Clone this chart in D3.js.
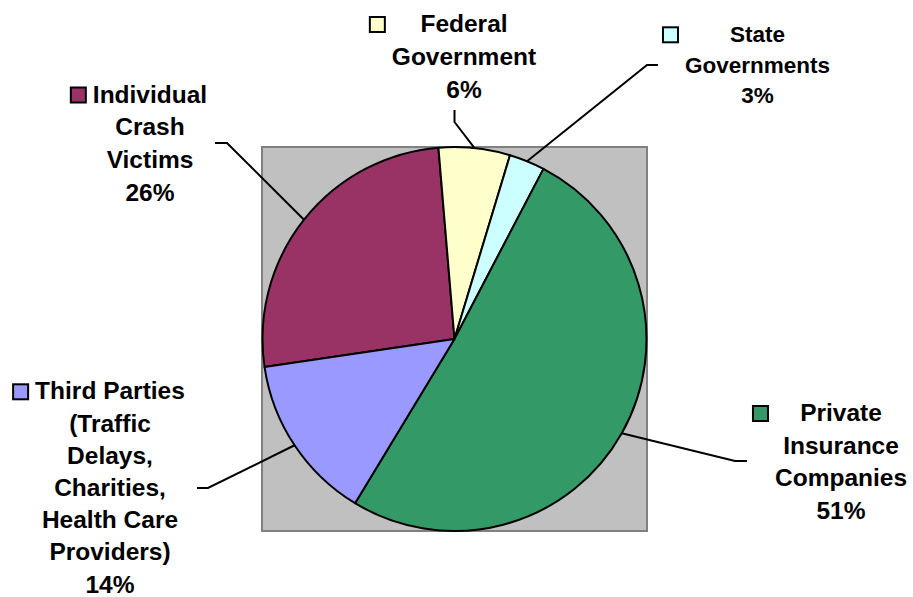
<!DOCTYPE html>
<html>
<head>
<meta charset="utf-8">
<script src="https://cdn.jsdelivr.net/npm/d3@7/dist/d3.min.js"></script>
<style>
  html, body { margin: 0; padding: 0; background: #ffffff; }
  svg { display: block; }
  text { font-family: "Liberation Sans", Arial, Helvetica, sans-serif; font-weight: bold; fill: #000; }
</style>
</head>
<body>
<svg id="chart" width="913" height="597"></svg>
<script>
// Who pays for motor vehicle crash costs — share of total
const categories = [
  "Individual Crash Victims",
  "Federal Government",
  "State Governments",
  "Private Insurance Companies",
  "Third Parties (Traffic Delays, Charities, Health Care Providers)"
];
const shares = [26, 6, 3, 51, 14];
const sliceColors = ["#993366", "#FFFFCC", "#CCFFFF", "#339966", "#9999FF"];
const labelLines = [
  ["Individual", "Crash", "Victims"],
  ["Federal", "Government"],
  ["State", "Governments"],
  ["Private", "Insurance", "Companies"],
  ["Third Parties", "(Traffic", "Delays,", "Charities,", "Health Care", "Providers)"]
];

const svg = d3.select("#chart");

// Plot area (grey square) and pie geometry
const box = { x: 262, y: 147, w: 385, h: 384 };
const cx = box.x + box.w / 2, cy = box.y + box.h / 2;
const radius = 192;

svg.append("rect")
  .attr("x", box.x).attr("y", box.y)
  .attr("width", box.w).attr("height", box.h)
  .attr("fill", "#C0C0C0")
  .attr("stroke", "#808080")
  .attr("stroke-width", 2);

// First slice begins so that the Federal slice starts just left of 12 o'clock
const firstStart = -98.4 * Math.PI / 180;
const pie = d3.pie().sort(null).value(d => d)
  .startAngle(firstStart).endAngle(firstStart + 2 * Math.PI);
const arcs = pie(shares);

const arc = d3.arc().innerRadius(0).outerRadius(radius);
const edgeArc = d3.arc().innerRadius(radius).outerRadius(radius);

const g = svg.append("g").attr("transform", `translate(${cx},${cy})`);
g.selectAll("path.slice")
  .data(arcs)
  .join("path")
  .attr("class", "slice")
  .attr("d", arc)
  .attr("fill", (d, i) => sliceColors[i])
  .attr("stroke", "#000")
  .attr("stroke-width", 2)
  .attr("stroke-linejoin", "round");

// Label placement: text block centre, first baseline, line height, font size,
// and the elbow of each leader line (outer end, then bend point)
const layout = [
  { x: 150,   y: 102.5, lh: 32.8, fs: 24.5, leader: [[215, 143], [227, 143]] },
  { x: 464,   y: 32,    lh: 33,   fs: 24.5, leader: [[454.5, 110], [454.5, 122]] },
  { x: 757.5, y: 42.3,  lh: 30.4, fs: 22.5, leader: [[658, 65], [647, 65]] },
  { x: 841,   y: 421,   lh: 32.5, fs: 24.5, leader: [[747, 461], [735, 461]] },
  { x: 110,   y: 399.3, lh: 32.2, fs: 24.5, leader: [[197, 488], [208, 488]] }
];

const fmtPct = v => `${v}%`;

// Leader lines
arcs.forEach((d, i) => {
  const [ex, ey] = edgeArc.centroid(d);
  const pts = [layout[i].leader[0], layout[i].leader[1], [cx + ex, cy + ey]];
  svg.append("path")
    .attr("d", d3.line()(pts))
    .attr("fill", "none")
    .attr("stroke", "#000")
    .attr("stroke-width", 2);
});

// Data labels with legend keys
arcs.forEach((d, i) => {
  const L = layout[i];
  const lines = labelLines[i].concat([fmtPct(shares[i])]);
  const lg = svg.append("g");
  let minLeft = Infinity;
  lines.forEach((t, k) => {
    const tx = lg.append("text")
      .attr("x", L.x)
      .attr("y", L.y + k * L.lh)
      .attr("text-anchor", "middle")
      .style("font-size", L.fs + "px")
      .text(t);
    const w = tx.node().getComputedTextLength();
    minLeft = Math.min(minLeft, L.x - w / 2);
  });
  const ks = 15;
  lg.append("rect")
    .attr("x", minLeft - 7 - ks)
    .attr("y", L.y - ks)
    .attr("width", ks).attr("height", ks)
    .attr("fill", sliceColors[i])
    .attr("stroke", "#000")
    .attr("stroke-width", 2);
});
</script>
</body>
</html>
